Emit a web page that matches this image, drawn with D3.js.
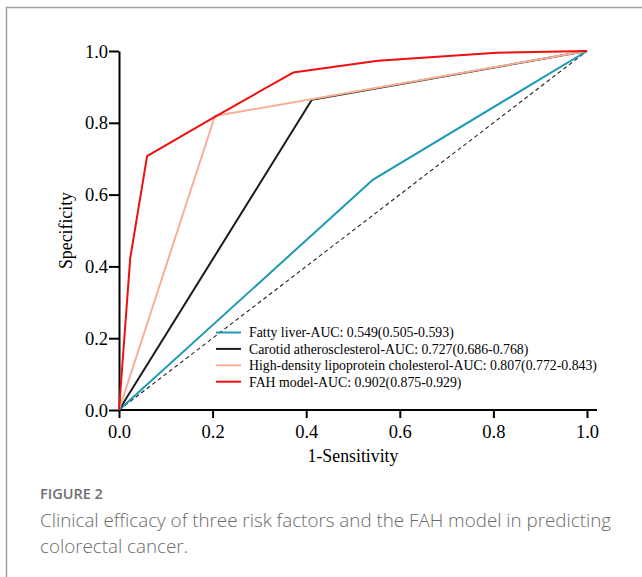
<!DOCTYPE html>
<html>
<head>
<meta charset="utf-8">
<script src="https://cdn.jsdelivr.net/npm/d3@7"></script>
<style>
  body { margin: 0; background: #fff; }
  svg { display: block; }
</style>
</head>
<body>
<svg id="chart" width="642" height="577"></svg>
<script>
// ROC curves: [1-Sensitivity, Specificity]
const fattyLiver = [[0, 0], [0.543, 0.642], [1, 1]];
const carotid = [[0, 0], [0.412, 0.864], [1, 1]];
const hdl = [[0, 0], [0.205, 0.819], [1, 1]];
const fahModel = [[0, 0], [0.024, 0.423], [0.06, 0.707], [0.2, 0.813], [0.372, 0.94],
  [0.553, 0.973], [0.807, 0.995], [1, 1]];
const reference = [[0, 0], [1, 1]];

const seriesNames = [
  "Fatty liver-AUC: 0.549(0.505-0.593)",
  "Carotid atherosclesterol-AUC: 0.727(0.686-0.768)",
  "High-density lipoprotein cholesterol-AUC: 0.807(0.772-0.843)",
  "FAH model-AUC: 0.902(0.875-0.929)"
];
const seriesColors = ["#1b9ab2", "#1a1a1a", "#f9ae96", "#ee0f0f"];
const seriesData = [fattyLiver, carotid, hdl, fahModel];
const tickValues = [0, 0.2, 0.4, 0.6, 0.8, 1.0];

const svg = d3.select("#chart");

// figure frame (left + top border)
svg.append("path")
  .attr("d", "M6.5,577 V7.5 H642")
  .attr("fill", "none")
  .attr("stroke", "#a0a0a0")
  .attr("stroke-width", 1.5);

const x = d3.scaleLinear().domain([0, 1]).range([119, 587]);
const y = d3.scaleLinear().domain([0, 1]).range([410, 51]);

const serif = "'Liberation Serif', 'Times New Roman', serif";

// AXES
const xAxis = svg.append("g")
  .attr("transform", "translate(0,410)")
  .call(d3.axisBottom(x).tickValues(tickValues).tickFormat(d3.format(".1f")).tickSize(8).tickSizeOuter(0));
const yAxis = svg.append("g")
  .attr("transform", "translate(119,0)")
  .call(d3.axisLeft(y).tickValues(tickValues).tickFormat(d3.format(".1f")).tickSize(10).tickSizeOuter(0));

// x axis line runs a little past 1.0
xAxis.select(".domain").attr("d", `M${x(0)},0 H${x(1) + 10}`);

[xAxis, yAxis].forEach(a => {
  a.attr("font-family", serif).attr("font-size", 18.5);
  a.select(".domain").attr("stroke", "#000").attr("stroke-width", 2);
  a.selectAll(".tick line").attr("stroke", "#000").attr("stroke-width", 2);
  a.selectAll(".tick text")
    .attr("fill", "#000")
    .style("font-family", serif)
    .style("font-size", "18.5px");
});
xAxis.selectAll(".tick text").attr("dy", null).attr("y", 28);
yAxis.selectAll(".tick text").attr("x", -11).attr("dy", "0.33em");

// axis titles
svg.append("text")
  .attr("x", x(0.5))
  .attr("y", 462)
  .attr("text-anchor", "middle")
  .style("font-family", serif)
  .style("font-size", "17.8px")
  .text("1-Sensitivity");

svg.append("text")
  .attr("transform", `translate(72,${y(0.5)}) rotate(-90)`)
  .attr("text-anchor", "middle")
  .style("font-family", serif)
  .style("font-size", "17.8px")
  .text("Specificity");

const line = d3.line().x(d => x(d[0])).y(d => y(d[1]));

// chance diagonal
svg.append("path")
  .datum(reference)
  .attr("d", line)
  .attr("fill", "none")
  .attr("stroke", "#222")
  .attr("stroke-width", 1.1)
  .attr("stroke-dasharray", "4,3");

// ROC curves
svg.selectAll(".roc")
  .data(seriesData)
  .enter()
  .append("path")
  .attr("class", "roc")
  .attr("d", line)
  .attr("fill", "none")
  .attr("stroke", (d, i) => seriesColors[i])
  .attr("stroke-width", 2)
  .attr("stroke-linejoin", "round");

// LEGEND
const legend = svg.append("g").attr("transform", "translate(216,332.5)");
const rows = legend.selectAll("g")
  .data(seriesNames)
  .enter()
  .append("g")
  .attr("transform", (d, i) => `translate(0,${i * 16.4})`);
rows.append("line")
  .attr("x1", 0).attr("x2", 25)
  .attr("stroke", (d, i) => seriesColors[i])
  .attr("stroke-width", 2);
rows.append("text")
  .attr("x", 33)
  .attr("dy", "0.35em")
  .style("font-family", serif)
  .style("font-size", "13.8px")
  .text(d => d);

// CAPTION
svg.append("text")
  .attr("x", 40)
  .attr("y", 499)
  .attr("fill", "#6f6f6f")
  .style("font-family", "'Open Sans', sans-serif")
  .style("font-size", "14.5px")
  .style("font-weight", 600)
  .text("FIGURE 2");

const caption = ["Clinical efficacy of three risk factors and the FAH model in predicting",
  "colorectal cancer."];
svg.selectAll(".caption")
  .data(caption)
  .enter()
  .append("text")
  .attr("class", "caption")
  .attr("x", 40)
  .attr("y", (d, i) => 527 + i * 26)
  .attr("fill", "#6a6a6a")
  .style("font-family", "'Open Sans', sans-serif")
  .style("font-size", "18.8px")
  .style("font-weight", 300)
  .text(d => d);
</script>
</body>
</html>
